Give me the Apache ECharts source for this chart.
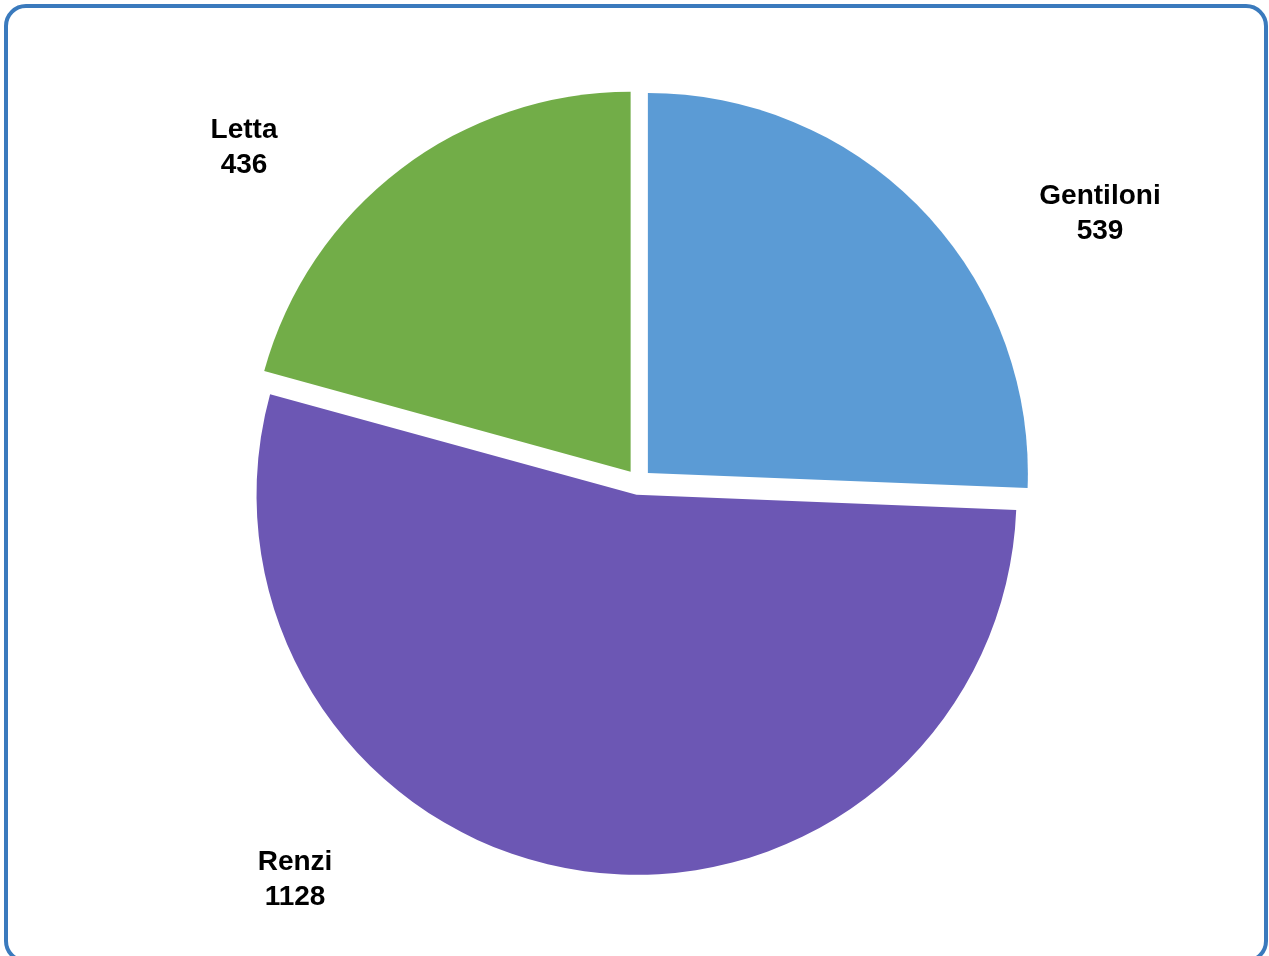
<!DOCTYPE html>
<html>
<head>
<meta charset="utf-8">
<script src="https://cdn.jsdelivr.net/npm/echarts@6/dist/echarts.min.js"></script>
<style>
  html, body { margin: 0; padding: 0; background: #ffffff; }
  #chart { width: 1269px; height: 956px; }
</style>
</head>
<body>
<div id="chart"></div>
<script>
const names = ['Gentiloni', 'Renzi', 'Letta'];
const values = [539, 1128, 436];
const colors = ['#5b9bd5', '#6c57b4', '#72ad48'];

// label anchor positions (pixels), layout only
const labelPos = [[1100, 214], [295, 880], [244, 148]];

const chart = echarts.init(document.getElementById('chart'), null, { renderer: 'canvas' });

const data = names.map((n, i) => ({
  name: n,
  value: values[i],
  selected: true,
  itemStyle: { color: colors[i] }
}));

const labelGraphics = names.map((n, i) => ({
  type: 'text',
  x: labelPos[i][0],
  y: labelPos[i][1],
  z: 50,
  style: {
    text: n + '\n' + values[i],
    fill: '#000000',
    font: 'bold 28px "Liberation Sans", Arial, sans-serif',
    lineHeight: 35,
    align: 'center',
    verticalAlign: 'middle'
  }
}));

chart.setOption({
  backgroundColor: '#ffffff',
  animation: false,
  graphic: [{
    type: 'rect',
    shape: { x: 6, y: 6, width: 1260, height: 955, r: 20 },
    style: { fill: 'none', stroke: '#3a7abd', lineWidth: 4 },
    z: 100
  }].concat(labelGraphics),
  series: [{
    type: 'pie',
    center: [638.5, 482],
    radius: 380,
    startAngle: 90,
    clockwise: true,
    selectedMode: 'multiple',
    selectedOffset: 13,
    silent: true,
    emphasis: { disabled: true },
    itemStyle: { borderWidth: 0 },
    label: { show: false },
    labelLine: { show: false },
    data: data
  }]
});
</script>
</body>
</html>
